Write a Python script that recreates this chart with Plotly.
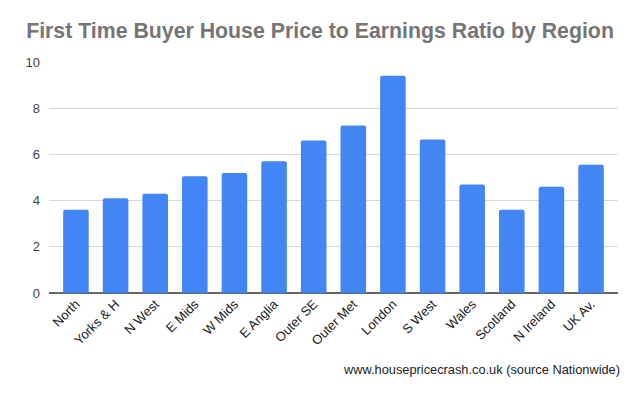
import plotly.graph_objects as go

regions = ["North", "Yorks & H", "N West", "E Mids", "W Mids", "E Anglia", "Outer SE",
           "Outer Met", "London", "S West", "Wales", "Scotland", "N Ireland", "UK Av."]
ratios = [3.6, 4.1, 4.3, 5.05, 5.2, 5.7, 6.6, 7.25, 9.4, 6.65, 4.7, 3.6, 4.6, 5.55]
y_ticks = [0, 2, 4, 6, 8, 10]

FONT = "Arial, Liberation Sans, sans-serif"

fig = go.Figure(go.Bar(
    x=regions, y=ratios, marker_color="#4285F4", marker_line_width=0,
    width=0.645,
))

fig.update_layout(
    width=632, height=389,
    margin=dict(l=41, r=22, t=54, b=104, autoexpand=False),
    paper_bgcolor="white", plot_bgcolor="white",
    font=dict(family=FONT, size=13, color="#222222"),
    barcornerradius=2,
    showlegend=False,
    title=dict(text="<b>First Time Buyer House Price to Earnings Ratio by Region</b>",
               x=0.4937, xanchor="center", y=0.941, yanchor="middle",
               font=dict(family=FONT, size=21.3, color="#757575")),
    xaxis=dict(tickangle=-45, tickfont=dict(size=13, color="#222222"),
               range=[-0.68, 13.68], showgrid=False, showline=False, ticks="",
               automargin=False, fixedrange=True),
    yaxis=dict(range=[0, 10], tickvals=y_ticks, ticktext=[str(v) for v in y_ticks],
               showgrid=True, gridcolor="#d9d9d9", gridwidth=1, zeroline=True,
               zerolinecolor="#666666", zerolinewidth=2, showline=False,
               automargin=False,
               tickfont=dict(size=13, color="#444444"), ticks="", ticklabelstandoff=8),
    annotations=[dict(text="www.housepricecrash.co.uk (source Nationwide)",
                      xref="paper", yref="paper", x=1.0, y=-0.333, xshift=4,
                      xanchor="right", yanchor="middle", showarrow=False,
                      font=dict(family=FONT, size=12.8, color="#222222"))],
)

fig.write_html("out.html")
